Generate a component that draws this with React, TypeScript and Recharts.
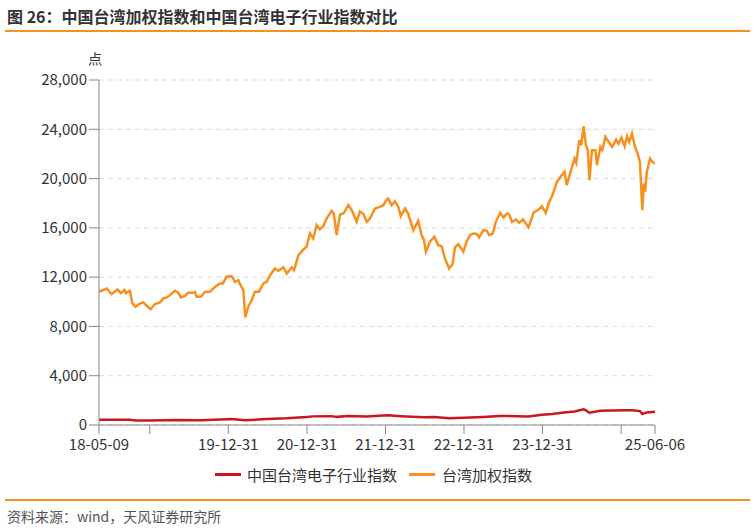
import { LineChart, Line, XAxis, YAxis, CartesianGrid } from "recharts";

// 台湾加权指数 (TAIEX)
const twDates = [
  "2018-05-09", "2018-06-14", "2018-07-06", "2018-08-03", "2018-08-19", "2018-09-04", "2018-09-12", "2018-09-30",
  "2018-10-11", "2018-10-26", "2018-11-11", "2018-12-01", "2018-12-17", "2019-01-04", "2019-01-24", "2019-02-17",
  "2019-03-04", "2019-03-20", "2019-04-09", "2019-04-27", "2019-05-13", "2019-05-25", "2019-06-10", "2019-06-28",
  "2019-07-18", "2019-07-29", "2019-08-06", "2019-08-26", "2019-09-14", "2019-10-07", "2019-10-30", "2019-11-22",
  "2019-12-06", "2019-12-23", "2020-01-16", "2020-01-31", "2020-02-16", "2020-02-26", "2020-03-10", "2020-03-19",
  "2020-04-02", "2020-04-18", "2020-05-03", "2020-05-22", "2020-06-11", "2020-06-27", "2020-07-12", "2020-08-04",
  "2020-08-20", "2020-09-12", "2020-09-28", "2020-10-21", "2020-11-01", "2020-11-21", "2020-12-14", "2020-12-29",
  "2021-01-14", "2021-01-29", "2021-02-14", "2021-03-01", "2021-03-17", "2021-04-01", "2021-04-25", "2021-05-05",
  "2021-05-18", "2021-06-02", "2021-06-21", "2021-07-11", "2021-07-27", "2021-08-03", "2021-08-19", "2021-09-03",
  "2021-09-19", "2021-10-05", "2021-10-20", "2021-11-12", "2021-12-05", "2021-12-21", "2022-01-05", "2022-01-12",
  "2022-01-29", "2022-02-13", "2022-03-01", "2022-03-12", "2022-04-01", "2022-04-16", "2022-04-27", "2022-05-09",
  "2022-06-01", "2022-06-17", "2022-06-28", "2022-07-07", "2022-07-26", "2022-08-15", "2022-09-02", "2022-09-18",
  "2022-10-03", "2022-10-23", "2022-11-08", "2022-11-19", "2022-12-04", "2022-12-28", "2023-01-12", "2023-01-28",
  "2023-02-12", "2023-02-28", "2023-03-11", "2023-03-31", "2023-04-16", "2023-04-27", "2023-05-13", "2023-05-28",
  "2023-06-17", "2023-07-03", "2023-07-18", "2023-07-28", "2023-08-11", "2023-08-29", "2023-09-14", "2023-10-01",
  "2023-10-15", "2023-10-27", "2023-11-19", "2023-12-09", "2023-12-28", "2024-01-15", "2024-01-28", "2024-02-15",
  "2024-03-07", "2024-03-30", "2024-04-11", "2024-04-22", "2024-05-08", "2024-05-28", "2024-06-05", "2024-06-19",
  "2024-06-28", "2024-07-09", "2024-07-20", "2024-07-29", "2024-08-05", "2024-08-17", "2024-09-02", "2024-09-09",
  "2024-09-25", "2024-10-04", "2024-10-18", "2024-11-03", "2024-11-19", "2024-12-07", "2024-12-18", "2025-01-01",
  "2025-01-16", "2025-01-27", "2025-02-06", "2025-02-19", "2025-03-05", "2025-03-17", "2025-03-28", "2025-04-08",
  "2025-04-15", "2025-04-21", "2025-04-29", "2025-05-14", "2025-05-25", "2025-06-06",
];
const twValues = [
  10810, 11080, 10620, 11000, 10700, 10950, 10700, 10900,
  9870, 9600, 9820, 9950, 9680, 9400, 9820, 9950,
  10270, 10350, 10620, 10900, 10730, 10350, 10460, 10730,
  10730, 10810, 10400, 10400, 10810, 10810, 11210, 11490,
  11490, 12030, 12080, 11620, 11760, 11350, 10950, 8730,
  9600, 10130, 10810, 10810, 11490, 11620, 12160, 12700,
  12520, 12790, 12300, 12790, 12570, 13790, 14250, 14470,
  15550, 15140, 16220, 15870, 16140, 16760, 17380, 17110,
  15410, 17060, 17220, 17840, 17430, 17170, 16490, 17330,
  17140, 16490, 16760, 17570, 17700, 17840, 18300, 18380,
  17840, 18160, 17700, 16950, 17570, 17140, 16490, 15810,
  16570, 15410, 15000, 14060, 14870, 15270, 14600, 14510,
  13520, 12700, 13060, 14410, 14680, 14060, 14870, 15410,
  15540, 15500, 15220, 15810, 15760, 15410, 15540, 16490,
  17220, 16840, 17170, 17110, 16490, 16680, 16410, 16680,
  16350, 16030, 17220, 17440, 17760, 17220, 17980, 18650,
  19730, 20280, 20550, 19460, 20470, 21630, 21280, 23110,
  22700, 24250, 22700, 22250, 19870, 22300, 22300, 21090,
  22570, 22300, 23380, 22970, 22570, 23160, 22840, 23330,
  22620, 23430, 22970, 23650, 22570, 22030, 21350, 17440,
  19600, 18930, 20540, 21630, 21350, 21200,
];

// 中国台湾电子行业指数
const elecDates = [
  "2018-05-09", "2018-09-30", "2018-10-26", "2018-12-31", "2019-04-27", "2019-08-26", "2019-12-23", "2020-01-16",
  "2020-03-19", "2020-06-27", "2020-09-28", "2020-12-29", "2021-01-29", "2021-04-25", "2021-05-18", "2021-07-11",
  "2021-10-05", "2021-12-21", "2022-01-12", "2022-03-12", "2022-06-28", "2022-08-15", "2022-10-23", "2022-12-28",
  "2023-03-31", "2023-06-17", "2023-08-29", "2023-10-27", "2023-12-28", "2024-02-15", "2024-03-30", "2024-05-28",
  "2024-07-09", "2024-07-20", "2024-08-05", "2024-09-25", "2024-11-19", "2025-01-27", "2025-02-19", "2025-03-28",
  "2025-04-08", "2025-04-29", "2025-06-06",
];
const elecValues = [
  430, 420, 370, 360, 400, 390, 470, 480,
  380, 480, 540, 650, 700, 720, 660, 740,
  700, 780, 790, 720, 620, 650, 540, 590,
  650, 730, 720, 700, 830, 900, 1000, 1100,
  1270, 1180, 1000, 1150, 1180, 1200, 1190, 1130,
  890, 1020, 1080,
];

const yTicks = [0, 4000, 8000, 12000, 16000, 20000, 24000, 28000];
const tickDates = [
  "2018-05-09", "2018-12-31", "2019-12-31", "2020-12-31", "2021-12-31",
  "2022-12-31", "2023-12-31", "2024-12-31", "2025-06-06",
];
const tickLabels = ["18-05-09", "", "19-12-31", "20-12-31", "21-12-31", "22-12-31", "23-12-31", "", "25-06-06"];

const toTime = (d: string) => {
  const [y, m, day] = d.split("-").map(Number);
  return Date.UTC(y, m - 1, day);
};

const twData = twDates.map((d, i) => ({ t: toTime(d), v: twValues[i] }));
const elecData = elecDates.map((d, i) => ({ t: toTime(d), v: elecValues[i] }));
const xTicks = tickDates.map(toTime);

const ORANGE = "#F7901E";
const RED = "#C8171E";
const AXIS = "#888";
const FONT = '"Noto Sans CJK SC", "Noto Sans", sans-serif';

export default function App() {
  return (
    <div style={{ position: "absolute", left: 0, top: 0, width: 755, height: 528, background: "#fff", fontFamily: FONT }}>
      <div style={{ position: "absolute", left: 7, top: 4, fontSize: 16, fontWeight: 700, color: "#333", whiteSpace: "nowrap" }}>
        图 26：中国台湾加权指数和中国台湾电子行业指数对比
      </div>
      <div style={{ position: "absolute", left: 5, top: 30, width: 745, height: 2, background: ORANGE }} />

      <div style={{ position: "absolute", left: 88, top: 48, fontSize: 14, color: "#333" }}>点</div>

      <div style={{ position: "absolute", left: 0, top: 0 }}>
        <LineChart width={755} height={460} margin={{ top: 80, right: 100, bottom: 0, left: 0 }}>
          <CartesianGrid vertical={false} stroke="#dcdcdc" strokeDasharray="5 4" />
          <XAxis
            type="number"
            dataKey="t"
            domain={[xTicks[0], xTicks[xTicks.length - 1]]}
            ticks={xTicks}
            interval={0}
            tickFormatter={(v: number) => tickLabels[xTicks.indexOf(v)] ?? ""}
            stroke={AXIS}
            tick={{ fill: "#333", fontSize: 15 }}
            tickSize={9}
            tickMargin={5}
            height={35}
            allowDataOverflow
          />
          <YAxis
            type="number"
            domain={[0, 28000]}
            ticks={yTicks}
            interval={0}
            tickFormatter={(v: number) => v.toLocaleString("en-US")}
            stroke={AXIS}
            tick={{ fill: "#333", fontSize: 15 }}
            tickSize={10}
            tickMargin={2}
            width={99}
          />
          <Line data={elecData} dataKey="v" type="linear" stroke={RED} strokeWidth={2.5} dot={false} isAnimationActive={false} />
          <Line data={twData} dataKey="v" type="linear" stroke={ORANGE} strokeWidth={2.5} dot={false} isAnimationActive={false} />
        </LineChart>
      </div>

      <div style={{ position: "absolute", left: 215, top: 464, display: "flex", alignItems: "center", fontSize: 15, color: "#333", whiteSpace: "nowrap" }}>
        <span style={{ display: "inline-block", width: 26, height: 3, background: RED, marginRight: 6 }} />
        <span>中国台湾电子行业指数</span>
        <span style={{ display: "inline-block", width: 26, height: 3, background: ORANGE, marginLeft: 12, marginRight: 7 }} />
        <span>台湾加权指数</span>
      </div>

      <div style={{ position: "absolute", left: 5, top: 499, width: 745, height: 1.5, background: ORANGE }} />
      <div style={{ position: "absolute", left: 7, top: 506, fontSize: 14, color: "#555", whiteSpace: "nowrap" }}>
        资料来源：wind，天风证券研究所
      </div>
    </div>
  );
}
